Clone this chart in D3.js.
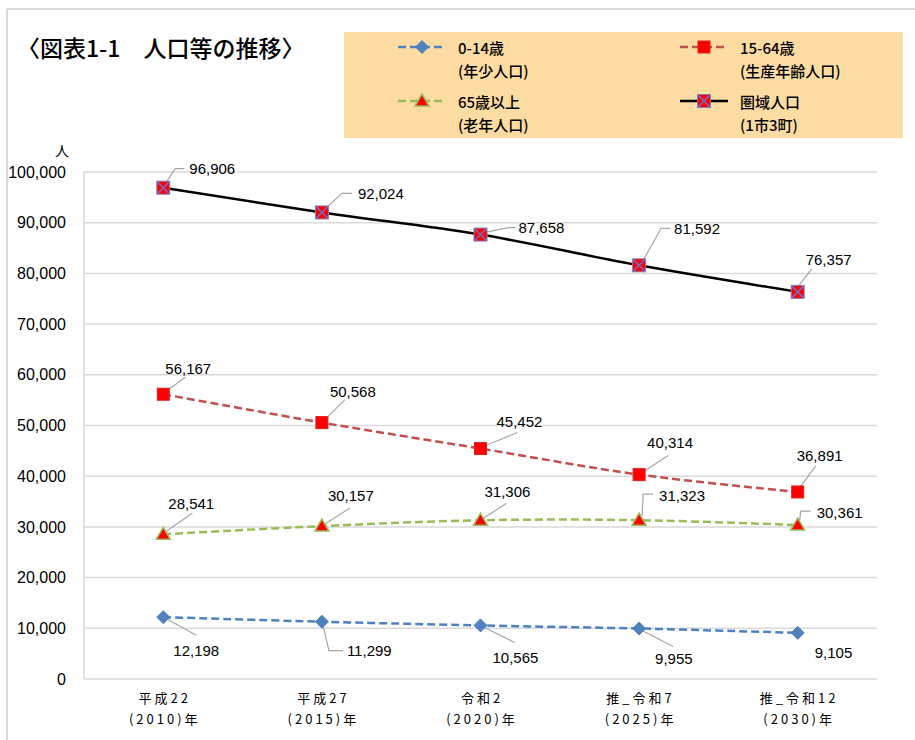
<!DOCTYPE html>
<html><head><meta charset="utf-8">
<script src="https://cdn.jsdelivr.net/npm/d3@7/dist/d3.min.js"></script>
<style>
body{margin:0;background:#fff;}
svg{display:block;}
</style></head>
<body>
<svg id="chart" width="915" height="740"></svg>
<script>
// ---- data ----
const catLine1 = ["平成22","平成27","令和2","推_令和7","推_令和12"];
const catLine2 = ["(2010)年","(2015)年","(2020)年","(2025)年","(2030)年"];
const young   = [12198, 11299, 10565, 9955, 9105];
const working = [56167, 50568, 45452, 40314, 36891];
const elderly = [28541, 30157, 31306, 31323, 30361];
const total   = [96906, 92024, 87658, 81592, 76357];
const yTicks  = [0,10000,20000,30000,40000,50000,60000,70000,80000,90000,100000];
const titleText = "〈図表1-1　人口等の推移〉";
const yUnit = "人";

// ---- label layout (pixel offsets from each marker) ----
const layoutTotal = [
  {dx:26, dy:-19, lead:[[2,-4],[12,-19],[21,-19]]},
  {dx:36, dy:-19, lead:[[3,-3],[20,-19],[30,-19]]},
  {dx:38, dy:-7,  lead:[[3,-2],[28,-7],[35,-7]]},
  {dx:35, dy:-37, lead:[[3,-3],[22,-37],[31,-37]]},
  {dx:8,  dy:-32, lead:[[1,-6],[14,-23]]}
];
const layoutWorking = [
  {dx:2,  dy:-26, lead:[[3,-3],[22,-17]]},
  {dx:8,  dy:-31, lead:[[3,-3],[23,-23]]},
  {dx:16, dy:-27, lead:[[3,-2],[37,-16]]},
  {dx:8,  dy:-32, lead:[[3,-2],[29,-19]]},
  {dx:-1, dy:-36, lead:[[2,-4],[18,-26]]}
];
const layoutElderly = [
  {dx:5,  dy:-31, lead:[[3,-3],[29,-21]]},
  {dx:6,  dy:-31, lead:[[3,-2],[28,-18]]},
  {dx:4,  dy:-29, lead:[[3,-2],[26,-17]]},
  {dx:20, dy:-25, lead:[[3,-4],[4,-26],[14,-26]]},
  {dx:19, dy:-13, lead:[[2,-5],[3,-14],[13,-14]]}
];
const layoutYoung = [
  {dx:10, dy:33, lead:[[4,2],[33,18]]},
  {dx:25, dy:29, lead:[[1,3],[7,29],[21,29]]},
  {dx:12, dy:32, lead:[[4,2],[34,17]]},
  {dx:16, dy:30, lead:[[3,2],[34,18]]},
  {dx:17, dy:20, lead:null}
];

const svg = d3.select("#chart");
const W = 915, H = 740;
const plot = {left:84, right:877, top:172, bottom:679};
const LABEL_FONT = "'Liberation Sans', Arial, sans-serif";
const JP_FONT = "'Noto Sans CJK JP', 'Noto Sans', sans-serif";

// outer frame
svg.append("line").attr("x1",7).attr("x2",7).attr("y1",9).attr("y2",H).attr("stroke","#d9d9d9").attr("stroke-width",2);
svg.append("line").attr("x1",7).attr("x2",W).attr("y1",9).attr("y2",9).attr("stroke","#d9d9d9").attr("stroke-width",2);

const x = d3.scalePoint().domain(d3.range(catLine1.length)).range([plot.left, plot.right]).padding(0.5);
const y = d3.scaleLinear().domain([0,100000]).range([plot.bottom, plot.top]);

// grid
const grid = svg.append("g");
grid.selectAll("line").data(yTicks).join("line")
  .attr("x1",plot.left).attr("x2",plot.right)
  .attr("y1",d=>y(d)).attr("y2",d=>y(d))
  .attr("stroke","#d9d9d9").attr("stroke-width",1.5);
svg.append("line").attr("x1",plot.left).attr("x2",plot.left).attr("y1",plot.top).attr("y2",plot.bottom)
  .attr("stroke","#d9d9d9").attr("stroke-width",1.5);

// y axis
const yAxis = d3.axisLeft(y).tickValues(yTicks).tickSize(0).tickPadding(18).tickFormat(d3.format(","));
const gy = svg.append("g").attr("transform",`translate(${plot.left},0)`).call(yAxis);
gy.select(".domain").remove();
gy.selectAll("text").attr("font-family",LABEL_FONT).attr("font-size",16).attr("fill","#000");
svg.append("text").attr("x",62).attr("y",150).attr("text-anchor","middle").attr("dominant-baseline","central")
  .attr("font-family",JP_FONT).attr("font-size",14).text(yUnit);

// x axis labels
const gx = svg.append("g");
catLine1.forEach((c,i)=>{
  gx.append("text").attr("x",x(i)+1.5).attr("y",697).attr("text-anchor","middle").attr("dominant-baseline","central")
    .attr("font-family",JP_FONT).attr("font-size",13).attr("letter-spacing",3).text(c);
  gx.append("text").attr("x",x(i)+1.5).attr("y",718).attr("text-anchor","middle").attr("dominant-baseline","central")
    .attr("font-family",JP_FONT).attr("font-size",13).attr("letter-spacing",3).text(catLine2[i]);
});

// title
svg.append("text").attr("x",17).attr("y",47).attr("dominant-baseline","central")
  .attr("font-family",JP_FONT).attr("font-size",23).attr("font-weight",500).attr("fill","#000").text(titleText);

const curve = d3.curveCatmullRom.alpha(0.5);
const lineGen = d3.line().x((d,i)=>x(i)).y(d=>y(d)).curve(curve);

const series = [
  {vals:elderly, color:"#9BBB59", dash:"8,4", marker:"tri", layout:layoutElderly},
  {vals:young,   color:"#4F81BD", dash:"8,4", marker:"diamond", layout:layoutYoung},
  {vals:working, color:"#C0504D", dash:"8,4", marker:"square", layout:layoutWorking},
  {vals:total,   color:"#000000", dash:null,  marker:"xsquare", layout:layoutTotal}
];

function drawMarker(g, type, cx, cy){
  if(type==="tri"){
    g.append("path").attr("d",`M${cx},${cy-7}L${cx+7},${cy+5}L${cx-7},${cy+5}Z`)
      .attr("fill","#FF0000").attr("stroke","#9BBB59").attr("stroke-width",1.5);
  } else if(type==="diamond"){
    g.append("path").attr("d",`M${cx},${cy-6.5}L${cx+6.5},${cy}L${cx},${cy+6.5}L${cx-6.5},${cy}Z`)
      .attr("fill","#4F81BD").attr("stroke","#4F81BD").attr("stroke-width",1);
  } else if(type==="square"){
    g.append("rect").attr("x",cx-6).attr("y",cy-6).attr("width",12).attr("height",12)
      .attr("fill","#FF0000").attr("stroke","#E0201E").attr("stroke-width",1);
  } else {
    g.append("rect").attr("x",cx-6.5).attr("y",cy-6.5).attr("width",13).attr("height",13)
      .attr("fill","#FF0000").attr("stroke","#8080C0").attr("stroke-width",1);
    g.append("path").attr("d",`M${cx-6},${cy-6}L${cx+6},${cy+6}M${cx+6},${cy-6}L${cx-6},${cy+6}`)
      .attr("stroke","#6F6FD0").attr("stroke-width",1.5);
  }
}

const gl = svg.append("g");
series.forEach(s=>{
  gl.append("path").datum(s.vals).attr("d",lineGen).attr("fill","none")
    .attr("stroke",s.color).attr("stroke-width",2.5)
    .attr("stroke-dasharray",s.dash);
});
series.forEach(s=>{
  const g = svg.append("g");
  s.vals.forEach((v,i)=>{
    const cx = x(i), cy = y(v);
    const L = s.layout[i];
    if(L.lead){
      const pts = L.lead.map(p=>[cx+p[0], cy+p[1]]);
      g.append("path").attr("d",d3.line()(pts)).attr("fill","none").attr("stroke","#a6a6a6").attr("stroke-width",1.2);
    }
  });
  s.vals.forEach((v,i)=>drawMarker(g, s.marker, x(i), y(v)));
  s.vals.forEach((v,i)=>{
    const L = s.layout[i];
    g.append("text").attr("x",x(i)+L.dx).attr("y",y(v)+L.dy).attr("dominant-baseline","central")
      .attr("font-family",LABEL_FONT).attr("font-size",15).attr("fill","#000").text(d3.format(",")(v));
  });
});

// legend
const lg = svg.append("g");
lg.append("rect").attr("x",344).attr("y",32).attr("width",559).attr("height",106).attr("fill","#FDDCA3");
const legendItems = [
  {s:series[1], l1:"0-14歳", l2:"(年少人口)", lx:398, ly:47},
  {s:series[2], l1:"15-64歳", l2:"(生産年齢人口)", lx:680, ly:47},
  {s:series[0], l1:"65歳以上", l2:"(老年人口)", lx:398, ly:101},
  {s:series[3], l1:"圏域人口", l2:"(1市3町)", lx:680, ly:101}
];
legendItems.forEach(it=>{
  lg.append("line").attr("x1",it.lx).attr("x2",it.lx+48).attr("y1",it.ly).attr("y2",it.ly)
    .attr("stroke",it.s.color).attr("stroke-width",2.5).attr("stroke-dasharray",it.s.dash);
  drawMarker(lg, it.s.marker, it.lx+24, it.ly);
  lg.append("text").attr("x",it.lx+60).attr("y",it.ly).attr("dominant-baseline","central")
    .attr("font-family",JP_FONT).attr("font-size",15).attr("font-weight",500).text(it.l1);
  lg.append("text").attr("x",it.lx+60).attr("y",it.ly+23).attr("dominant-baseline","central")
    .attr("font-family",JP_FONT).attr("font-size",15).attr("font-weight",500).text(it.l2);
});
</script>
</body></html>
